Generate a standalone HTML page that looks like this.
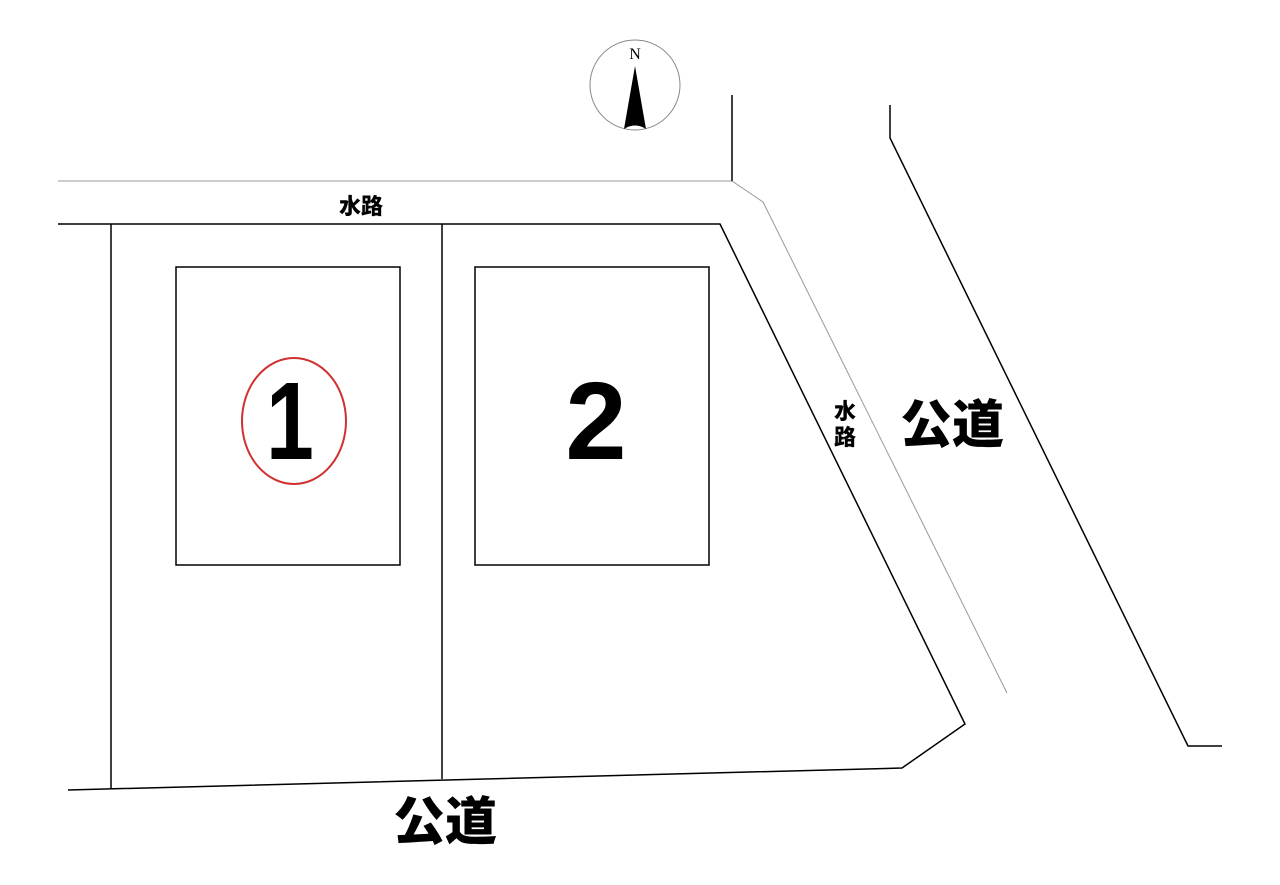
<!DOCTYPE html>
<html><head><meta charset="utf-8"><style>html,body{margin:0;padding:0;background:#fff}svg{display:block}</style></head>
<body>
<svg width="1280" height="885" viewBox="0 0 1280 885" xmlns="http://www.w3.org/2000/svg">
<rect width="1280" height="885" fill="#fff"/>
<polyline points="58,181 732,181 763,202 1007,693" fill="none" stroke="#999" stroke-width="1"/>
<line x1="732" y1="95" x2="732" y2="181" stroke="#000" stroke-width="1.5"/>
<polyline points="890,105 890,138 1188,746 1222,746" fill="none" stroke="#000" stroke-width="1.5"/>
<polyline points="58,224 720,224 965,724 902,768 68,790" fill="none" stroke="#000" stroke-width="1.5"/>
<line x1="111" y1="224" x2="111" y2="789" stroke="#000" stroke-width="1.5"/>
<line x1="442" y1="224" x2="442" y2="779" stroke="#000" stroke-width="1.5"/>
<rect x="176" y="267" width="224" height="298" fill="none" stroke="#000" stroke-width="1.5"/>
<rect x="475" y="267" width="234" height="298" fill="none" stroke="#000" stroke-width="1.5"/>
<ellipse cx="294" cy="421" rx="52" ry="63" fill="none" stroke="#d03030" stroke-width="2"/>
<g font-family="Liberation Sans, sans-serif" font-weight="bold" text-anchor="middle">
<text x="0" y="0" font-size="110" transform="translate(290,459) scale(0.78,1)">1</text>
<text x="596" y="459" font-size="110">2</text>
</g>
<g font-family="Liberation Sans, 'Noto Sans CJK JP', sans-serif" font-weight="900" text-anchor="middle">
<text x="361" y="214" font-size="22">水路</text>
<text x="845" y="419" font-size="22">水</text>
<text x="845" y="445" font-size="22">路</text>
<text x="952" y="443" font-size="52">公道</text>
<text x="445" y="840" font-size="52">公道</text>
</g>
<circle cx="635" cy="85" r="45" fill="#fff" stroke="#888" stroke-width="1"/>
<text x="635" y="59" font-family="Liberation Serif, serif" font-size="16" text-anchor="middle">N</text>
<path d="M635,66 L646,129 Q635,122 624,129 Z" fill="#000"/>
</svg>
</body></html>
